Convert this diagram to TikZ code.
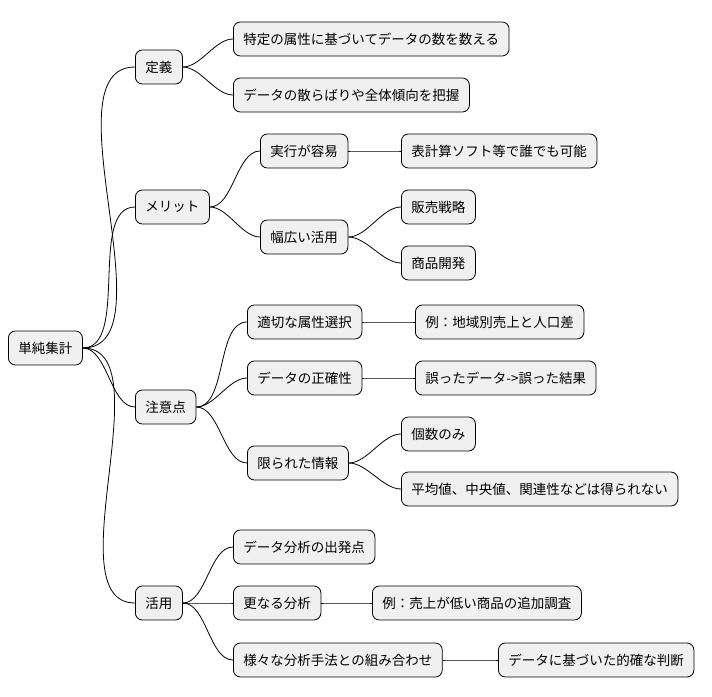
\documentclass[tikz,border=0pt]{standalone}
\usepackage{fontspec}
\setmainfont{Noto Sans CJK JP}
\begin{document}
\begin{tikzpicture}[x=1pt,y=-1pt,
  box/.style={draw=black,fill=black!6,rounded corners=7pt,minimum height=34pt,inner xsep=10pt,anchor=west,font=\fontsize{13.5}{16}\selectfont,line width=0.8pt},
  link/.style={draw=black,line width=0.8pt,out=0,in=180,looseness=0.8}]
\useasboundingbox (0,0) rectangle (712,696);
\node[box] (r) at (8,348) {単純集計};
\node[box] (a) at (135,67) {定義};
\node[box] (a1) at (233,39) {特定の属性に基づいてデータの数を数える};
\node[box] (a2) at (233,95) {データの散らばりや全体傾向を把握};
\node[box] (b) at (135,207) {メリット};
\node[box] (b1) at (260,151) {実行が容易};
\node[box] (b11) at (401,151) {表計算ソフト等で誰でも可能};
\node[box] (b2) at (260,237) {幅広い活用};
\node[box] (b21) at (401,207) {販売戦略};
\node[box] (b22) at (401,263) {商品開発};
\node[box] (c) at (135,407) {注意点};
\node[box] (c1) at (247,322) {適切な属性選択};
\node[box] (c11) at (415,322) {例：地域別売上と人口差};
\node[box] (c2) at (247,378) {データの正確性};
\node[box] (c21) at (415,378) {誤ったデータ->誤った結果};
\node[box] (c3) at (247,463) {限られた情報};
\node[box] (c31) at (401,434) {個数のみ};
\node[box] (c32) at (401,489) {平均値、中央値、関連性などは得られない};
\node[box] (d) at (135,603) {活用};
\node[box] (d1) at (233,547) {データ分析の出発点};
\node[box] (d2) at (233,603) {更なる分析};
\node[box] (d21) at (372,603) {例：売上が低い商品の追加調査};
\node[box] (d3) at (233,660) {様々な分析手法との組み合わせ};
\node[box] (d31) at (498,660) {データに基づいた的確な判断};
\foreach \p/\c in {r/a,r/b,r/c,r/d,a/a1,a/a2,b/b1,b/b2,b1/b11,b2/b21,b2/b22,c/c1,c/c2,c/c3,c1/c11,c2/c21,c3/c31,c3/c32,d/d1,d/d2,d/d3,d2/d21,d3/d31}
  \draw[link] (\p.east) to (\c.west);
\end{tikzpicture}
\end{document}
